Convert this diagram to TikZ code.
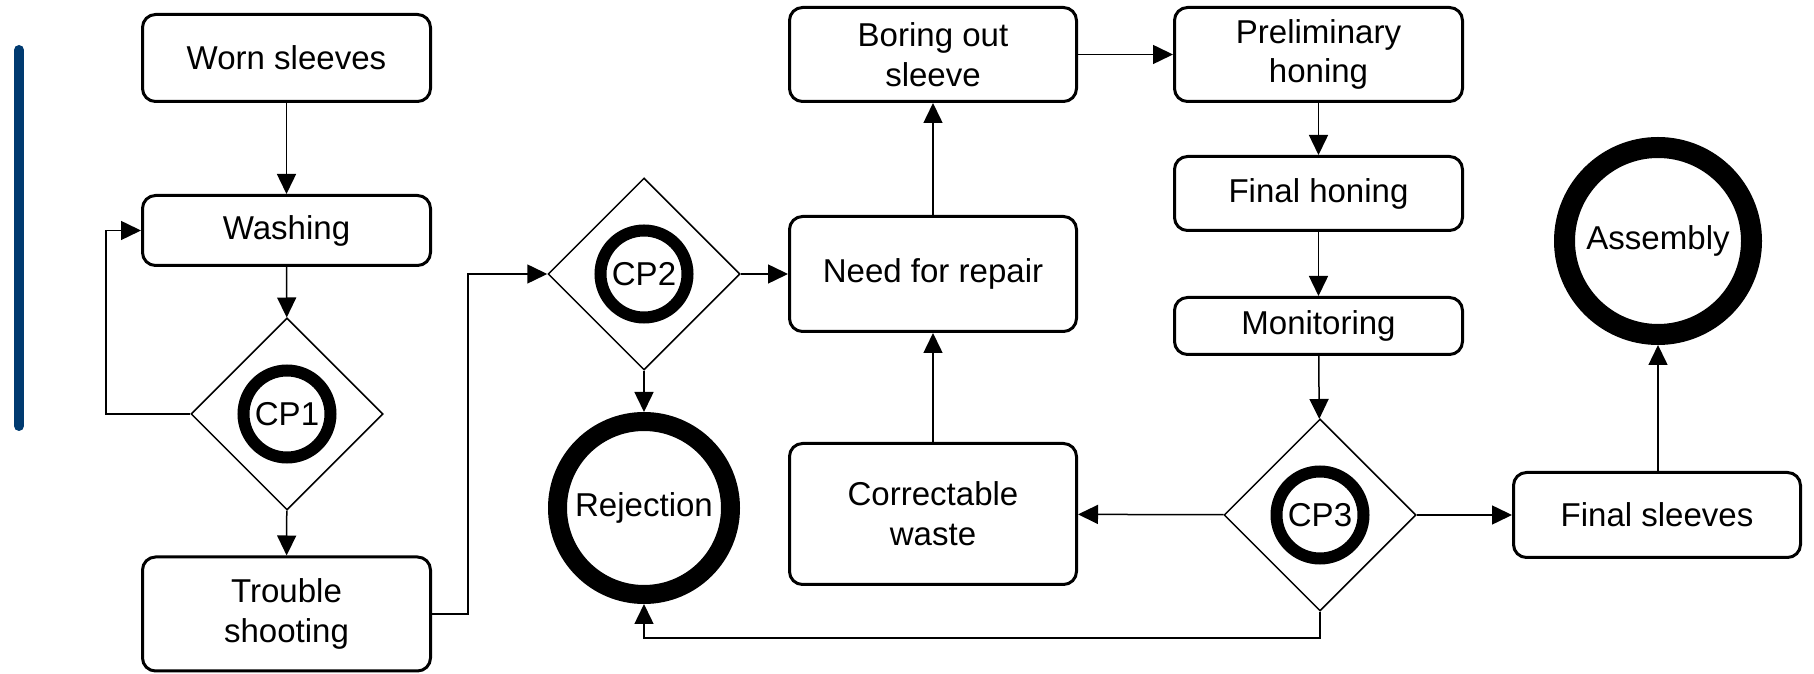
\documentclass[tikz,border=0pt]{standalone}
\usepackage{fontspec}
\setmainfont{Liberation Sans}
\usetikzlibrary{arrows.meta,shapes.geometric}
\definecolor{barblue}{RGB}{0,58,112}

\begin{document}
\begin{tikzpicture}[>={Triangle[length=0.4cm,width=0.38cm]},
	font=\fontsize{18.8}{22.7}\selectfont,
	stepbox/.style={draw,line width=0.06cm,rounded corners=0.26cm,minimum width=5.76cm,align=center,inner sep=0pt},
	check/.style={draw,diamond,aspect=1,line width=0.03cm,minimum size=3.84cm,inner sep=0pt},
	cpring/.style={draw,circle,line width=0.24cm,minimum size=1.74cm,inner sep=0pt},
	endring/.style={draw,circle,inner sep=0pt},
	flow/.style={->,line width=0.03cm}]

\useasboundingbox (0,0) rectangle (36.28,13.48);

% Blue bar on the left
\draw[barblue,line width=0.2cm,line cap=round] (0.38,12.48) -- (0.38,4.96);

% First column: incoming sleeves
\node[stepbox,minimum height=1.74cm] (worn) at (5.73,12.32) {Worn sleeves};
\node[stepbox,minimum height=1.40cm] (wash) at (5.73,8.87) {Washing};
\node[check] (cp1) at (5.74,5.2) {};
\node[cpring] at (cp1) {CP1};
\node[stepbox,minimum height=2.28cm] (ts) at (5.73,1.2) {Trouble\\shooting};

% Second check point and rejection
\node[check] (cp2) at (12.88,8.0) {};
\node[cpring] at (cp2) {CP2};
\node[endring,line width=0.38cm,minimum size=3.46cm] (rej) at (12.88,3.32) {Rejection};

% Repair column
\node[stepbox,minimum width=5.74cm,minimum height=1.88cm] (bore) at (18.66,12.39) {Boring out\\sleeve};
\node[stepbox,minimum width=5.74cm,minimum height=2.30cm] (need) at (18.66,8.0) {Need for repair};
\node[stepbox,minimum width=5.74cm,minimum height=2.82cm] (corr) at (18.66,3.2) {Correctable\\waste};

% Honing column
\node[stepbox,minimum height=1.88cm] (prelim) at (26.37,12.39) {Preliminary\\honing};
\node[stepbox,minimum height=1.48cm] (fhone) at (26.37,9.61) {Final honing};
\node[stepbox,minimum height=1.14cm] (mon) at (26.37,6.96) {Monitoring};
\node[check] (cp3) at (26.4,3.18) {};
\node[cpring] at (cp3) {CP3};

% Output
\node[stepbox,minimum width=5.74cm,minimum height=1.70cm] (fsl) at (33.14,3.18) {Final sleeves};
\node[endring,line width=0.42cm,minimum size=3.74cm] (asm) at (33.16,8.66) {Assembly};

% Bend points
\coordinate (loop) at (2.12,5.2);
\coordinate (low) at (26.4,0.72);

% Connectors
\draw[flow] (worn) -- (wash);
\draw[flow] (wash) -- (cp1);
\draw[flow] (cp1.west) -- (loop) |- (wash.west);
\draw[flow] (cp1) -- (ts);
\draw[flow] (ts.east) -- ++(0.72,0) |- (cp2.west);
\draw[flow] (cp2) -- (need);
\draw[flow] (cp2) -- (rej);
\draw[flow] (need) -- (bore);
\draw[flow] (corr) -- (need);
\draw[flow] (bore) -- (prelim);
\draw[flow] (prelim) -- (fhone);
\draw[flow] (fhone) -- (mon);
\draw[flow] (mon) -- (cp3);
\draw[flow] (cp3) -- (corr);
\draw[flow] (cp3) -- (fsl);
\draw[flow] (fsl.north -| asm) -- (asm);
\draw[flow] (cp3.south) -- (low) -| (rej.south);
\end{tikzpicture}
\end{document}
